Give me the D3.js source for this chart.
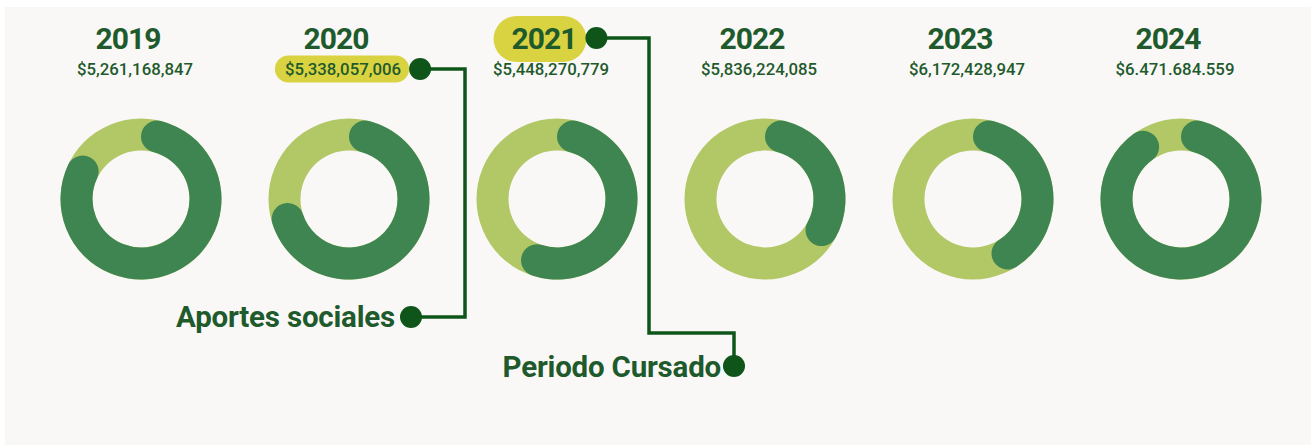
<!DOCTYPE html>
<html>
<head>
<meta charset="utf-8">
<script src="https://cdn.jsdelivr.net/npm/d3@7"></script>
<style>
  html, body { margin: 0; padding: 0; background: #ffffff; }
  svg { display: block; }
</style>
</head>
<body>
<svg id="chart" width="1316" height="445"></svg>
<script>
// ---- data ----
const years = ["2019", "2020", "2021", "2022", "2023", "2024"];
const totals = ["$5,261,168,847", "$5,338,057,006", "$5,448,270,779", "$5,836,224,085", "$6,172,428,947", "$6.471.684.559"];
const darkShare = [86, 74, 59, 37, 45, 94]; // percent of ring in dark green
const labelValue = "Aportes sociales";
const labelYear = "Periodo Cursado";

// ---- styles ----
const C = {
  bg: "#f9f8f6",
  light: "#b2c766",
  dark: "#3e8552",
  text: "#1e5a2c",
  line: "#0f551a",
  pill: "#d9d341"
};

const svg = d3.select("#chart");
const W = 1316, H = 445;

svg.append("rect").attr("x", 5).attr("y", 7).attr("width", 1306).attr("height", H - 7).attr("fill", C.bg);

const x = d3.scalePoint().domain(years).range([141, 1181]);
const cy = 199;
const rIn = 48.5, rOut = 80.5;
const angle = d3.scaleLinear().domain([0, 100]).range([0, 2 * Math.PI]);

const ringArc = d3.arc().innerRadius(rIn).outerRadius(rOut).startAngle(0).endAngle(2 * Math.PI);
const valArc = d3.arc().innerRadius(rIn).outerRadius(rOut).cornerRadius((rOut - rIn) / 2)
  .startAngle(0).endAngle(d => angle(d));

const data = years.map((y, i) => ({ year: y, total: totals[i], share: darkShare[i] }));

const pillLayer = svg.append("g");
const lineLayer = svg.append("g");

const g = svg.append("g").selectAll("g.item").data(data).join("g")
  .attr("class", "item")
  .attr("transform", d => `translate(${x(d.year)},0)`);

g.append("path").attr("transform", `translate(0,${cy})`).attr("d", ringArc()).attr("fill", C.light);
g.append("path").attr("transform", `translate(0,${cy})`).attr("d", d => valArc(d.share)).attr("fill", C.dark);

const yearText = g.append("text")
  .attr("x", -13).attr("y", 49)
  .attr("text-anchor", "middle")
  .attr("font-family", "Roboto, sans-serif")
  .attr("font-weight", 700)
  .attr("font-size", 30)
  .attr("letter-spacing", -1)
  .attr("fill", C.text)
  .text(d => d.year);

const valText = g.append("text")
  .attr("x", -6).attr("y", 75)
  .attr("text-anchor", "middle")
  .attr("font-family", "Roboto, sans-serif")
  .attr("font-weight", 500)
  .attr("font-size", 16.8)
  .attr("fill", C.text)
  .text(d => d.total);

// ---- annotations ----
function bboxAbs(sel) {
  const node = sel.node();
  const b = node.getBBox();
  const t = node.parentNode.transform.baseVal.consolidate().matrix;
  return { x: b.x + t.e, y: b.y + t.f, width: b.width, height: b.height };
}

const v2020 = bboxAbs(valText.filter(d => d.year === "2020"));
const p1 = { x: v2020.x - 10, y: v2020.y + v2020.height / 2 - 13.5, w: v2020.width + 18, h: 27 };
pillLayer.append("rect").attr("x", p1.x).attr("y", p1.y).attr("width", p1.w).attr("height", p1.h)
  .attr("rx", 13.5).attr("fill", C.pill);

const y2021 = bboxAbs(yearText.filter(d => d.year === "2021"));
const p2 = { x: y2021.x - 18, y: 16, w: y2021.width + 28, h: 46 };
pillLayer.append("rect").attr("x", p2.x).attr("y", p2.y).attr("width", p2.w).attr("height", p2.h)
  .attr("rx", 23).attr("fill", C.pill);

const x20 = x("2020"), x21 = x("2021");

// connector 1: 2020 value -> Aportes sociales
const d1 = { x: p1.x + p1.w + 11, y: p1.y + p1.h / 2 };
const v1x = x20 + 116, yLow1 = 317;
const e1x = x20 + 62;
lineLayer.append("path")
  .attr("d", `M${d1.x},${d1.y}H${v1x}V${yLow1}H${e1x}`)
  .attr("fill", "none").attr("stroke", C.line).attr("stroke-width", 3.5);
lineLayer.append("circle").attr("cx", d1.x).attr("cy", d1.y).attr("r", 11).attr("fill", C.line);
lineLayer.append("circle").attr("cx", e1x).attr("cy", yLow1).attr("r", 11).attr("fill", C.line);
svg.append("text")
  .attr("x", e1x - 16).attr("y", 327)
  .attr("text-anchor", "end")
  .attr("font-family", "Roboto, sans-serif")
  .attr("font-weight", 700)
  .attr("font-size", 29.5)
  .attr("letter-spacing", -0.2)
  .attr("fill", C.text)
  .text(labelValue);

// connector 2: 2021 year -> Periodo Cursado
const d2 = { x: p2.x + p2.w + 10, y: p2.y + p2.h / 2 - 1 };
const v2x = x21 + 92, yMid2 = 333, v3x = x21 + 177, yLow2 = 366;
lineLayer.append("path")
  .attr("d", `M${d2.x},${d2.y}H${v2x}V${yMid2}H${v3x}V${yLow2}`)
  .attr("fill", "none").attr("stroke", C.line).attr("stroke-width", 3.5);
lineLayer.append("circle").attr("cx", d2.x).attr("cy", d2.y).attr("r", 11).attr("fill", C.line);
lineLayer.append("circle").attr("cx", v3x).attr("cy", yLow2).attr("r", 11).attr("fill", C.line);
svg.append("text")
  .attr("x", v3x - 13).attr("y", 377)
  .attr("text-anchor", "end")
  .attr("font-family", "Roboto, sans-serif")
  .attr("font-weight", 700)
  .attr("font-size", 29.5)
  .attr("letter-spacing", -0.2)
  .attr("fill", C.text)
  .text(labelYear);
</script>
</body>
</html>
